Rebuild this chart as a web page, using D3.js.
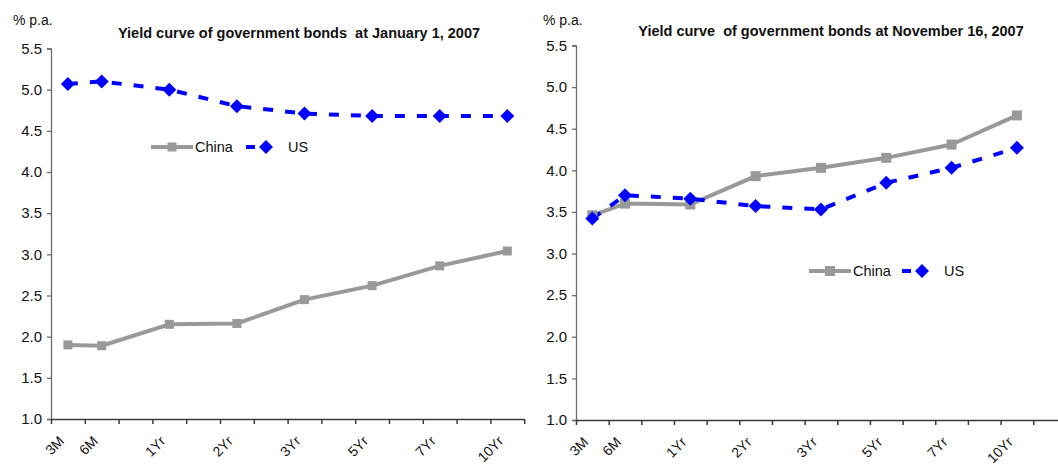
<!DOCTYPE html>
<html>
<head>
<meta charset="utf-8">
<script src="https://cdn.jsdelivr.net/npm/d3@7/dist/d3.min.js"></script>
<style>
  html, body { margin: 0; padding: 0; background: #fff; }
  svg { display: block; font-family: "Liberation Sans", Arial, sans-serif; }
  .title { white-space: pre; }
</style>
</head>
<body>
<svg id="chart" width="1058" height="464"></svg>
<script>
// Axis slots: Excel-style category axis with blank slots between tenors
const slotsJan = ["3M", "6M", "", "1Yr", "", "2Yr", "", "3Yr", "", "5Yr", "", "7Yr", "", "10Yr"];
const slotsNov = ["3M", "6M", "", "1Yr", "", "2Yr", "", "3Yr", "", "5Yr", "", "7Yr", "", "10Yr", ""];
const tenors = ["3M", "6M", "1Yr", "2Yr", "3Yr", "5Yr", "7Yr", "10Yr"];
const yTicks = [1.0, 1.5, 2.0, 2.5, 3.0, 3.5, 4.0, 4.5, 5.0, 5.5];

// Yields (% p.a.) at January 1, 2007
const chinaJan = [1.90, 1.89, 2.15, 2.16, 2.45, 2.62, 2.86, 3.04];
const usJan    = [5.07, 5.10, 5.00, 4.80, 4.71, 4.68, 4.68, 4.68];

// Yields (% p.a.) at November 16, 2007
const chinaNov = [3.46, 3.60, 3.59, 3.93, 4.03, 4.15, 4.31, 4.66];
const usNov    = [3.42, 3.70, 3.66, 3.57, 3.53, 3.85, 4.03, 4.27];

const seriesNames = ["China", "US"];
const titleJan = "Yield curve of government bonds  at January 1, 2007";
const titleNov = "Yield curve  of government bonds at November 16, 2007";
const unitLabel = "% p.a.";

const GREY = "#999999";
const BLUE = "#0000ff";

const svg = d3.select("#chart");

function panel(opt) {
  const g = svg.append("g");
  const n = opt.slots.length;
  const xl = d3.scaleLinear().domain([0, n]).range([opt.x0, opt.x0 + opt.slot * n]);
  const y = d3.scaleLinear().domain([1.0, 5.5]).range([opt.yBottom, opt.yTop]);
  const xOf = t => xl(opt.slots.indexOf(t) + 0.5);

  // y axis
  const ya = g.append("g")
    .attr("transform", `translate(${opt.x0},0)`)
    .call(d3.axisLeft(y).tickValues(yTicks).tickFormat(d3.format(".1f")).tickSize(4).tickPadding(5));
  ya.select(".domain").attr("stroke", "#6b6b6b").attr("stroke-width", 1.3);
  ya.selectAll(".tick line").attr("stroke", "#6b6b6b").attr("stroke-width", 1.3);
  ya.selectAll(".tick text").attr("font-size", 15).attr("fill", "#111")
    .attr("font-family", "'Liberation Sans', Arial, sans-serif");

  // x axis: ticks on slot boundaries
  const xa = g.append("g")
    .attr("transform", `translate(0,${opt.yBottom})`)
    .call(d3.axisBottom(xl).tickValues(d3.range(n + 1)).tickFormat("").tickSize(5).tickSizeOuter(0));
  xa.select(".domain").attr("stroke", "#3a3a3a").attr("stroke-width", 1.5);
  xa.selectAll(".tick line").attr("stroke", "#3a3a3a").attr("stroke-width", 1.5);

  // category labels, rotated
  g.selectAll("text.cat").data(tenors).enter().append("text")
    .attr("class", "cat")
    .attr("transform", d => `translate(${xOf(d) - 3},${opt.yBottom + 23}) rotate(-45)`)
    .attr("text-anchor", "end")
    .attr("font-size", 14)
    .attr("fill", "#111")
    .text(d => d);

  // unit label and title
  g.append("text").attr("x", opt.unitX).attr("y", 25).attr("font-size", 14).attr("fill", "#111").text(unitLabel);
  g.append("text").attr("class", "title")
    .attr("x", opt.titleX).attr("y", opt.titleY)
    .attr("text-anchor", "middle").attr("font-size", 14.5).attr("font-weight", "bold")
    .attr("fill", "#111").text(opt.title);

  const line = d3.line().x((d, i) => xOf(tenors[i])).y(d => y(d));

  // China: solid grey line with square markers
  g.append("path").datum(opt.china).attr("d", line)
    .attr("fill", "none").attr("stroke", GREY).attr("stroke-width", 4).attr("stroke-linejoin", "round");
  // US: dashed blue line with diamond markers
  g.append("path").datum(opt.us).attr("d", line)
    .attr("fill", "none").attr("stroke", BLUE).attr("stroke-width", 4).attr("stroke-dasharray", "10,12");

  const sq = opt.sq, dm = 7;
  g.selectAll("rect.cn").data(opt.china).enter().append("rect")
    .attr("x", (d, i) => xOf(tenors[i]) - sq / 2).attr("y", d => y(d) - sq / 2)
    .attr("width", sq).attr("height", sq).attr("fill", GREY);
  const diamond = (cx, cy) => `M${cx},${cy - dm}L${cx + dm},${cy}L${cx},${cy + dm}L${cx - dm},${cy}Z`;
  g.selectAll("path.us").data(opt.us).enter().append("path")
    .attr("d", (d, i) => diamond(xOf(tenors[i]), y(d))).attr("fill", BLUE);

  // legend
  const lg = g.append("g");
  const ly = opt.legY;
  lg.append("line").attr("x1", opt.legX).attr("x2", opt.legX + 42).attr("y1", ly).attr("y2", ly)
    .attr("stroke", GREY).attr("stroke-width", 4);
  lg.append("rect").attr("x", opt.legX + 21 - sq / 2).attr("y", ly - sq / 2).attr("width", sq).attr("height", sq).attr("fill", GREY);
  lg.append("text").attr("x", opt.legX + 44).attr("y", ly + 5).attr("font-size", 14.5).attr("fill", "#111").text(seriesNames[0]);
  const ux = opt.legUsX;
  lg.append("line").attr("x1", ux).attr("x2", ux + 27).attr("y1", ly).attr("y2", ly)
    .attr("stroke", BLUE).attr("stroke-width", 4).attr("stroke-dasharray", "9,7");
  lg.append("path").attr("d", diamond(ux + 20, ly)).attr("fill", BLUE);
  lg.append("text").attr("x", ux + 42).attr("y", ly + 5).attr("font-size", 14.5).attr("fill", "#111").text(seriesNames[1]);
}

panel({
  slots: slotsJan, x0: 51, slot: 33.8, yTop: 48.5, yBottom: 419, sq: 9,
  china: chinaJan, us: usJan, title: titleJan, titleX: 299, titleY: 38, unitX: 13,
  legX: 151, legUsX: 246, legY: 147
});
panel({
  slots: slotsNov, x0: 576, slot: 32.66, yTop: 45.5, yBottom: 420, sq: 10,
  china: chinaNov, us: usNov, title: titleNov, titleX: 831, titleY: 36, unitX: 543,
  legX: 809, legUsX: 902, legY: 271
});
</script>
</body>
</html>
